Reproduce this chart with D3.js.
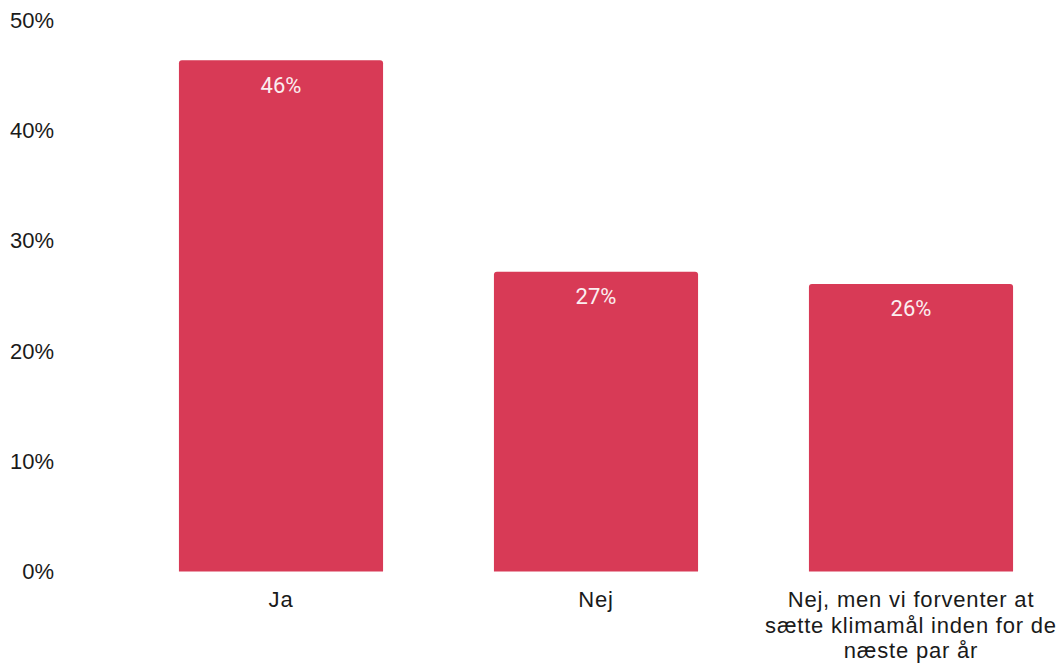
<!DOCTYPE html>
<html>
<head>
<meta charset="utf-8">
<script src="https://cdn.jsdelivr.net/npm/d3@7"></script>
<style>
  html, body { margin: 0; padding: 0; background: #fff; }
  svg { display: block; }
</style>
</head>
<body>
<svg id="chart" width="1063" height="664"></svg>
<script>
const categories = ["Ja", "Nej", "Nej, men vi forventer at sætte klimamål inden for de næste par år"];
const categoryLines = [["Ja"], ["Nej"], ["Nej, men vi forventer at", "sætte klimamål inden for de", "næste par år"]];
const values = [46.4, 27.2, 26.1];
const valueLabels = ["46%", "27%", "26%"];
const yTicks = [0, 10, 20, 30, 40, 50];

const svg = d3.select("#chart");
const x = d3.scaleBand().domain(categories).range([123.5, 1068.5]).paddingInner(0.352).paddingOuter(0.176);
const y = d3.scaleLinear().domain([0, 50]).range([571.5, 20.5]);

const yAxis = d3.axisLeft(y).tickValues(yTicks).tickFormat(d => d + "%").tickSize(0).tickPadding(0);
const gy = svg.append("g").attr("transform", "translate(54,0)").call(yAxis);
gy.select(".domain").remove();
gy.selectAll("text").attr("font-family", "Liberation Sans, Arial, sans-serif").attr("font-size", 22).attr("fill", "#1a1a1a");

const r = 3;
function barPath(d, i) {
  const x0 = x(categories[i]), w = x.bandwidth(), y0 = y(d), y1 = y(0);
  return `M${x0},${y1}V${y0 + r}Q${x0},${y0} ${x0 + r},${y0}H${x0 + w - r}Q${x0 + w},${y0} ${x0 + w},${y0 + r}V${y1}Z`;
}
svg.append("g").selectAll("path").data(values).join("path")
  .attr("d", barPath).attr("fill", "#d83a56");

svg.append("g").selectAll("text").data(values).join("text")
  .attr("x", (d, i) => x(categories[i]) + x.bandwidth() / 2)
  .attr("y", d => y(d) + 32.5)
  .attr("text-anchor", "middle")
  .attr("font-family", "Roboto, sans-serif")
  .attr("font-weight", 400)
  .attr("font-size", 22)
  .attr("fill", "#fbeef0")
  .text((d, i) => valueLabels[i]);

const cat = svg.append("g").selectAll("text").data(categories).join("text")
  .attr("x", d => x(d) + x.bandwidth() / 2)
  .attr("y", 607)
  .attr("text-anchor", "middle")
  .attr("font-family", "Liberation Sans, Arial, sans-serif")
  .attr("font-size", 22)
  .attr("letter-spacing", 0.8)
  .attr("fill", "#1a1a1a");
cat.each(function(d, i) {
  d3.select(this).selectAll("tspan").data(categoryLines[i]).join("tspan")
    .attr("x", x(d) + x.bandwidth() / 2)
    .attr("dy", (t, j) => j === 0 ? 0 : 25.5)
    .text(t => t);
});
</script>
</body>
</html>
